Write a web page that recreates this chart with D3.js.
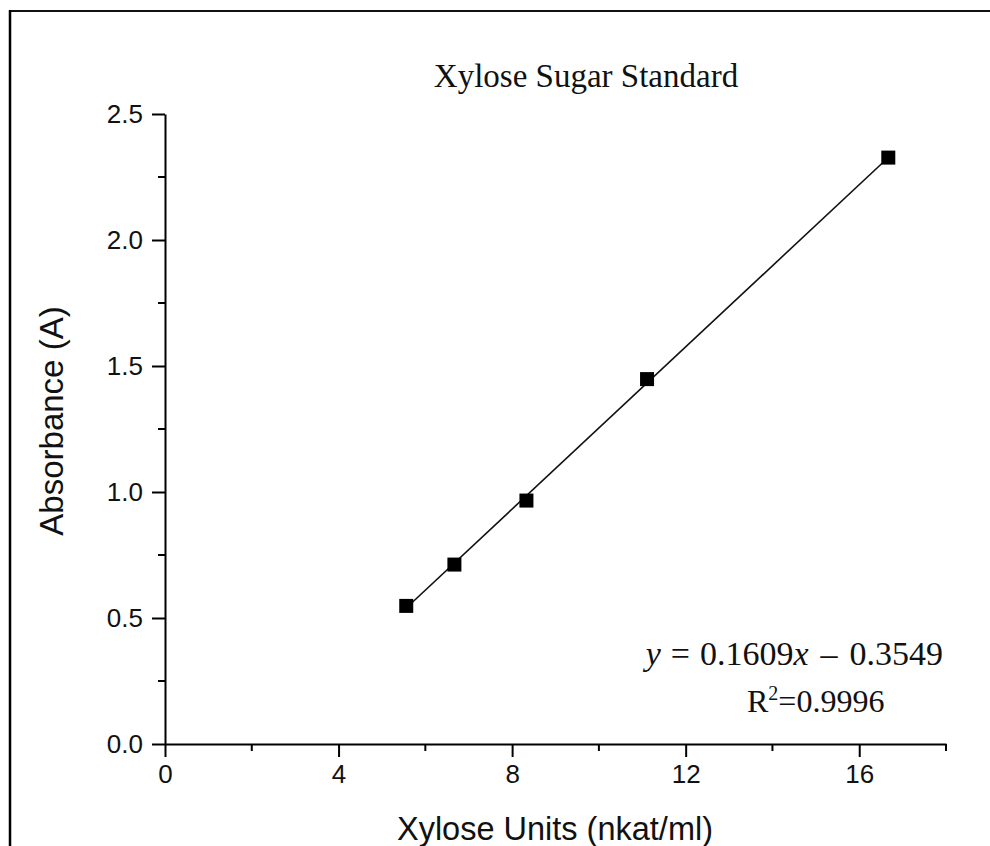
<!DOCTYPE html>
<html>
<head>
<meta charset="utf-8">
<script src="https://cdn.jsdelivr.net/npm/d3@7"></script>
<style>
  html, body { margin: 0; padding: 0; background: #fff; }
  svg { display: block; }
</style>
</head>
<body>
<svg id="chart" width="990" height="846"></svg>
<script>
// ---- data ----
const xUnits = [5.56, 6.67, 8.33, 11.11, 16.67];
const absorbance = [0.548, 0.712, 0.966, 1.448, 2.327];
const fitSlope = 0.1609;
const fitIntercept = -0.3549;
const xMajorTicks = [0, 4, 8, 12, 16];
const xMinorTicks = [2, 6, 10, 14, 18];
const yMajorTicks = [0.0, 0.5, 1.0, 1.5, 2.0, 2.5];
const yMinorTicks = [0.25, 0.75, 1.25, 1.75, 2.25];
const titleText = "Xylose Sugar Standard";
const xTitle = "Xylose Units (nkat/ml)";
const yTitle = "Absorbance (A)";

const svg = d3.select("#chart");
const margin = { left: 165, top: 114, right: 946, bottom: 744 };

const x = d3.scaleLinear().domain([0, 18]).range([margin.left, margin.right]);
const y = d3.scaleLinear().domain([0, 2.5]).range([margin.bottom, margin.top]);

// frame (top and left edges)
svg.append("line").attr("x1", 10).attr("y1", 11).attr("x2", 990).attr("y2", 11)
  .attr("stroke", "#111").attr("stroke-width", 2);
svg.append("line").attr("x1", 10).attr("y1", 10).attr("x2", 10).attr("y2", 846)
  .attr("stroke", "#000").attr("stroke-width", 2.5);

// x axis
const xAxis = svg.append("g").attr("transform", `translate(0,${margin.bottom})`);
xAxis.call(d3.axisBottom(x).tickValues(xMajorTicks).tickFormat(d3.format("d"))
  .tickSize(13).tickSizeOuter(0).tickPadding(8));
xAxis.append("g").selectAll("line").data(xMinorTicks).join("line")
  .attr("x1", d => x(d)).attr("x2", d => x(d)).attr("y1", 0).attr("y2", 7)
  .attr("stroke", "#000").attr("stroke-width", 2);

// y axis
const yAxis = svg.append("g").attr("transform", `translate(${margin.left},0)`);
yAxis.call(d3.axisLeft(y).tickValues(yMajorTicks).tickFormat(d3.format(".1f"))
  .tickSize(13).tickSizeOuter(0).tickPadding(9));
yAxis.append("g").selectAll("line").data(yMinorTicks).join("line")
  .attr("y1", d => y(d)).attr("y2", d => y(d)).attr("x1", 0).attr("x2", -7)
  .attr("stroke", "#000").attr("stroke-width", 2);

[xAxis, yAxis].forEach(g => {
  g.select(".domain").attr("stroke", "#000").attr("stroke-width", 2);
  g.selectAll(".tick line").attr("stroke", "#000").attr("stroke-width", 2);
  g.selectAll(".tick text").attr("fill", "#111")
    .style("font-family", "Arial, 'Liberation Sans', sans-serif").style("font-size", "26px");
});

// fit line
const xMin = d3.min(xUnits), xMax = d3.max(xUnits);
svg.append("line")
  .attr("x1", x(xMin)).attr("y1", y(fitSlope * xMin + fitIntercept))
  .attr("x2", x(xMax)).attr("y2", y(fitSlope * xMax + fitIntercept))
  .attr("stroke", "#111").attr("stroke-width", 1.6);

// points
const sz = 14;
svg.append("g").selectAll("rect").data(xUnits.map((v, i) => [v, absorbance[i]])).join("rect")
  .attr("x", d => x(d[0]) - sz / 2).attr("y", d => y(d[1]) - sz / 2)
  .attr("width", sz).attr("height", sz).attr("fill", "#000");

// title
svg.append("text").attr("x", 586).attr("y", 87).attr("text-anchor", "middle")
  .style("font-family", "'Times New Roman', 'Liberation Serif', serif").style("font-size", "33px")
  .attr("fill", "#111").text(titleText);

// axis titles
svg.append("text").attr("x", 555).attr("y", 840).attr("text-anchor", "middle")
  .style("font-family", "Arial, 'Liberation Sans', sans-serif").style("font-size", "32.5px")
  .attr("fill", "#111").text(xTitle);
svg.append("text").attr("transform", "translate(63,421) rotate(-90)").attr("text-anchor", "middle")
  .style("font-family", "Arial, 'Liberation Sans', sans-serif").style("font-size", "33px")
  .attr("fill", "#111").text(yTitle);

// equation
const eq = svg.append("text").attr("x", 943).attr("y", 665).attr("text-anchor", "end")
  .style("font-family", "'Times New Roman', 'Liberation Serif', serif").style("font-size", "34px")
  .attr("fill", "#111");
eq.append("tspan").style("font-style", "italic").text("y");
eq.append("tspan").attr("dx", 10).text("=");
eq.append("tspan").attr("dx", 10).text(fitSlope.toFixed(4));
eq.append("tspan").style("font-style", "italic").text("x");
eq.append("tspan").attr("dx", 12).text("\u2013");
eq.append("tspan").attr("dx", 12).text(Math.abs(fitIntercept).toFixed(4));

const r2 = svg.append("text").attr("x", 747).attr("y", 712)
  .style("font-family", "'Times New Roman', 'Liberation Serif', serif").style("font-size", "32px")
  .attr("fill", "#111");
r2.append("tspan").text("R");
r2.append("tspan").attr("dy", -12).style("font-size", "20px").text("2");
r2.append("tspan").attr("dy", 12).text("=0.9996");
</script>
</body>
</html>
